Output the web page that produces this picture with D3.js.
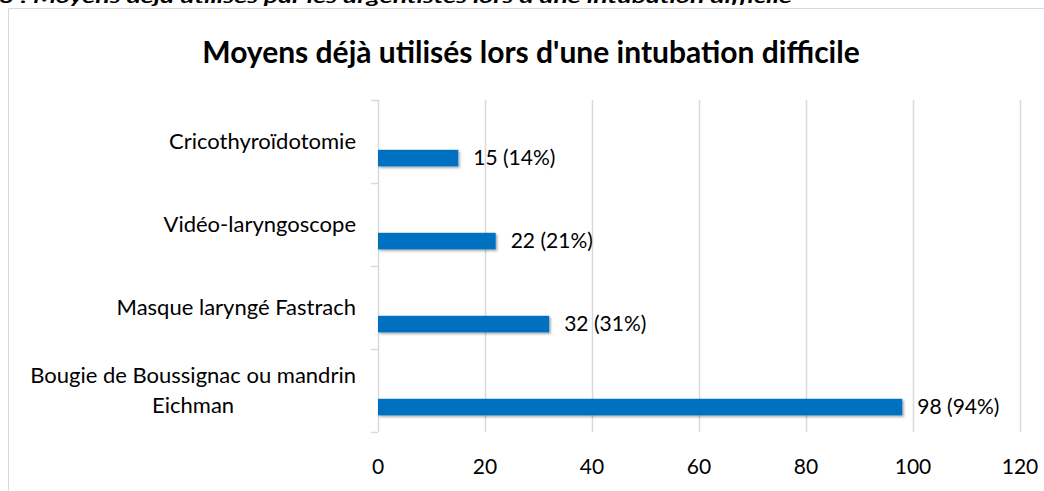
<!DOCTYPE html>
<html><head><meta charset="utf-8">
<script src="https://cdn.jsdelivr.net/npm/d3@7"></script>
<style>body{margin:0;background:#fff}svg{display:block}text{font-family:Lato,"Open Sans",sans-serif}</style>
</head><body>
<svg id="c" width="1044" height="491"></svg>
<script>
const categories = ["Bougie de Boussignac ou mandrin|Eichman", "Masque laryngé Fastrach", "Vidéo-laryngoscope", "Cricothyroïdotomie"];
const values = [98, 32, 22, 15];
const valueLabels = ["98 (94%)", "32 (31%)", "22 (21%)", "15 (14%)"];
const xTicks = [0, 20, 40, 60, 80, 100, 120];
const chartTitle = "Moyens déjà utilisés lors d'une intubation difficile";
const caption = "3 : Moyens déjà utilisés par les urgentistes lors d'une intubation difficile";

const svg = d3.select("#c");
const fs = "#000";

// caption (clipped at top, as in the source)
svg.append("text").attr("x", -1).attr("y", 3).attr("font-size", 17).attr("font-weight", "bold")
  .attr("font-style", "italic").attr("textLength", 793).attr("lengthAdjust", "spacingAndGlyphs").text(caption);

// chart frame
svg.append("path").attr("d", "M8.5,500 V8.5 H1050").attr("fill", "none").attr("stroke", "#d9d9d9").attr("stroke-width", 1);

svg.append("text").attr("x", 531).attr("y", 63).attr("text-anchor", "middle").attr("font-size", 30)
  .attr("font-weight", "bold").text(chartTitle);

const x = d3.scaleLinear().domain([0, 120]).range([378, 1020]);
const yb = d3.scaleBand().domain(categories.slice().reverse()).range([100, 432]);

// gridlines
svg.append("g").selectAll("line").data(xTicks.slice(1)).join("line")
  .attr("x1", d => Math.round(x(d)) + 0.5).attr("x2", d => Math.round(x(d)) + 0.5)
  .attr("y1", 100).attr("y2", 432).attr("stroke", "#d9d9d9").attr("stroke-width", 1.5);

// vertical axis line and ticks
svg.append("line").attr("x1", 378.5).attr("x2", 378.5).attr("y1", 100).attr("y2", 432).attr("stroke", "#d9d9d9").attr("stroke-width", 1.5);
const tickYs = [0, 1, 2, 3, 4].map(i => 100 + i * yb.bandwidth());
svg.append("g").selectAll("line").data(tickYs).join("line")
  .attr("x1", 371).attr("x2", 378).attr("y1", d => Math.round(d) + 0.5).attr("y2", d => Math.round(d) + 0.5)
  .attr("stroke", "#d9d9d9").attr("stroke-width", 1.5);

// x tick labels
svg.append("g").selectAll("text").data(xTicks).join("text")
  .attr("x", d => x(d)).attr("y", 474).attr("text-anchor", "middle").attr("font-size", 21).attr("fill", fs).text(d => d);

// bars with shadow
const bw = yb.bandwidth();
const defs = svg.append("defs");
const f = defs.append("filter").attr("id", "sh").attr("x", "-5%").attr("y", "-50%").attr("width", "110%").attr("height", "200%");
f.append("feDropShadow").attr("dx", 1.5).attr("dy", 1.5).attr("stdDeviation", 1).attr("flood-color", "#000").attr("flood-opacity", 0.35);

const data = categories.map((c, i) => ({c, v: values[i], l: valueLabels[i]}));
svg.append("g").selectAll("rect").data(data).join("rect")
  .attr("x", x(0)).attr("y", d => yb(d.c) + bw * 0.6).attr("width", d => x(d.v) - x(0)).attr("height", bw * 0.2)
  .attr("fill", "#0070C0").attr("filter", "url(#sh)");

svg.append("g").selectAll("text").data(data).join("text")
  .attr("x", d => x(d.v) + 15).attr("y", d => yb(d.c) + bw * 0.7 + 7).attr("font-size", 21).attr("fill", fs).text(d => d.l);

// category labels
const cl = svg.append("g").selectAll("text").data(data).join("text")
  .attr("font-size", 22).attr("fill", fs).attr("text-anchor", "middle");
cl.each(function(d) {
  const lines = d.c.split("|");
  const t = d3.select(this);
  const cy = yb(d.c) + bw * 0.5;
  const lh = 30;
  const y0 = cy - (lines.length - 1) * lh / 2 + 7;
  lines.forEach((ln, k) => t.append("tspan").attr("y", y0 + k * lh).text(ln));
  const w = d3.max(t.selectAll("tspan").nodes(), n => n.getComputedTextLength());
  t.selectAll("tspan").attr("x", 356 - w / 2);
});
</script>
</body></html>
